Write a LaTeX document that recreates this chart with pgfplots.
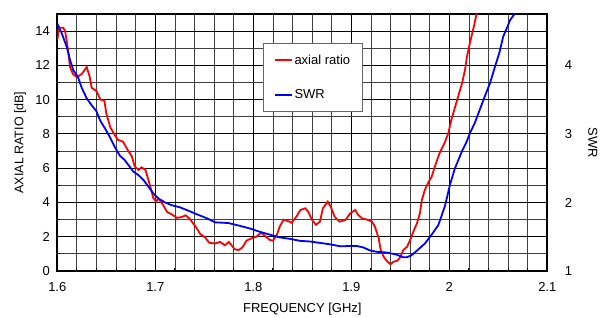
\documentclass[border=0pt]{standalone}
\usepackage{fontspec}
\setmainfont{Liberation Sans}
\usepackage{pgfplots}
\pgfplotsset{compat=1.18}
\begin{document}
\begin{tikzpicture}[font=\fontsize{13}{15}\selectfont]
\begin{axis}[name=L,
  scale only axis, width=490pt, height=257pt,
  xmin=1.6, xmax=2.1, ymin=0, ymax=15,
  xtick={1.6,1.7,1.8,1.9,2.0,2.1},
  xticklabels={1.6,1.7,1.8,1.9,2,2.1},
  ytick={0,2,...,14},
  minor x tick num=4, minor y tick num=1,
  xtick pos=bottom, ytick pos=left,
  tick align=inside,
  major tick length=4pt, minor tick length=3pt,
  tick style={black, line width=1pt},
  grid=both,
  major grid style={black, line width=1.1pt},
  minor grid style={black!75, line width=0.8pt},
  axis line style={black, line width=2.2pt},
  /pgf/number format/assume math mode=true,
  xticklabel style={yshift=-8pt},
  yticklabel style={xshift=-4pt},
  xlabel={FREQUENCY [GHz]},
  ylabel={AXIAL RATIO [dB]},
  xlabel style={at={(axis description cs:0.5,-0.148)}, anchor=center},
  ylabel style={at={(axis description cs:-0.076,0.5)}, anchor=center, font=\fontsize{12.5}{15}\selectfont},
]
\addplot[red, line width=1.8pt] coordinates {
(1.600,13.5) (1.602,14.2) (1.606,14.2) (1.608,14.0) (1.611,12.9) (1.613,11.9)
(1.616,11.5) (1.619,11.35) (1.621,11.35) (1.625,11.5) (1.630,11.9) (1.633,11.35)
(1.635,10.7) (1.640,10.5) (1.644,10.0) (1.648,9.95) (1.650,9.2) (1.654,8.4)
(1.659,7.9) (1.662,7.65) (1.667,7.55) (1.672,7.05) (1.676,6.7) (1.679,6.1)
(1.683,5.9) (1.686,6.05) (1.690,5.9) (1.693,5.3) (1.696,4.7) (1.698,4.25)
(1.701,4.05) (1.703,4.25) (1.708,3.85) (1.712,3.45) (1.717,3.3) (1.722,3.1)
(1.727,3.15) (1.731,3.25) (1.735,3.05) (1.741,2.6) (1.746,2.15) (1.751,1.95)
(1.755,1.65) (1.761,1.6) (1.766,1.7) (1.771,1.5) (1.775,1.7) (1.781,1.27)
(1.785,1.22) (1.789,1.38) (1.793,1.77) (1.798,1.9) (1.803,2.0) (1.808,2.24)
(1.812,2.04) (1.817,1.81) (1.820,1.77) (1.824,2.1) (1.827,2.6) (1.831,3.0)
(1.836,2.9) (1.839,2.82) (1.844,3.17) (1.848,3.56) (1.853,3.66) (1.856,3.46)
(1.860,2.98) (1.864,2.69) (1.868,2.88) (1.871,3.66) (1.876,4.05) (1.879,3.75)
(1.883,3.17) (1.888,2.88) (1.894,2.98) (1.899,3.37) (1.904,3.56) (1.907,3.27)
(1.911,3.07) (1.916,3.0) (1.921,2.88) (1.924,2.6) (1.928,1.9) (1.930,1.22)
(1.933,0.83) (1.937,0.54) (1.940,0.39) (1.943,0.54) (1.947,0.6) (1.950,0.8)
(1.953,1.22) (1.957,1.42) (1.960,1.81) (1.964,2.39) (1.967,2.78) (1.970,3.37)
(1.972,4.14) (1.975,4.73) (1.979,5.21) (1.982,5.5) (1.985,6.05) (1.990,6.87)
(1.995,7.45) (1.999,8.04) (2.002,8.81) (2.006,9.59) (2.009,10.18) (2.013,10.96)
(2.016,11.73) (2.018,12.5) (2.021,13.3) (2.025,14.26) (2.028,15.04)
};
\end{axis}
\begin{axis}[
  scale only axis, width=490pt, height=257pt,
  xmin=1.6, xmax=2.1, ymin=1, ymax=4.75,
  axis x line=none,
  axis y line*=right,
  ytick={1,2,3,4},
  minor y tick num=1,
  tick align=inside,
  major tick length=4pt, minor tick length=4pt,
  tick style={black, line width=1pt},
  axis line style={black, line width=2.2pt},
  /pgf/number format/assume math mode=true,
  yticklabel style={xshift=14pt},
  ylabel={SWR},
  ylabel style={at={(axis description cs:1.093,0.5)}, anchor=center, rotate=180},
  legend cell align=left,
  legend image code/.code={\draw[#1] (0pt,0pt) -- (17pt,0pt);},
  legend style={at={(0.42,0.887)}, anchor=north west, draw=black!60,
    line width=1.2pt, inner xsep=10pt, inner ysep=9pt, row sep=20pt,
    font=\fontsize{13}{15}\selectfont},
]
\addlegendimage{red, line width=1.8pt}
\addlegendentry{axial ratio}
\addplot[blue, line width=1.8pt] coordinates {
(1.600,4.61) (1.6045,4.47) (1.6096,4.27) (1.613,4.08) (1.6163,3.93) (1.6208,3.84)
(1.625,3.67) (1.630,3.52) (1.635,3.42) (1.640,3.33) (1.6436,3.20) (1.6487,3.08)
(1.6538,2.95) (1.659,2.80) (1.664,2.68) (1.6687,2.62) (1.674,2.52) (1.6776,2.45)
(1.6827,2.40) (1.6878,2.33) (1.693,2.23) (1.698,2.13) (1.703,2.06) (1.710,2.00)
(1.7167,1.96) (1.725,1.93) (1.7337,1.88) (1.742,1.83) (1.7525,1.77) (1.761,1.71)
(1.7745,1.70) (1.786,1.66) (1.7966,1.62) (1.807,1.57) (1.817,1.53) (1.827,1.49)
(1.837,1.47) (1.8476,1.44) (1.858,1.43) (1.868,1.41) (1.878,1.39) (1.889,1.36)
(1.899,1.365) (1.9055,1.365) (1.912,1.345) (1.919,1.30) (1.926,1.28) (1.936,1.27)
(1.946,1.24) (1.953,1.20) (1.9565,1.20) (1.9616,1.23) (1.968,1.31) (1.975,1.40)
(1.982,1.53) (1.9888,1.67) (1.9956,1.95) (2.0007,2.26) (2.0058,2.50) (2.0127,2.74)
(2.0178,2.89) (2.021,3.01) (2.026,3.16) (2.031,3.35) (2.036,3.54) (2.0415,3.74)
(2.0466,3.98) (2.051,4.18) (2.055,4.42) (2.0586,4.54) (2.062,4.66) (2.067,4.76)
};
\addlegendentry{SWR}
\end{axis}
\pgfresetboundingbox
\path (L.south west) ++(-57.3pt,-47pt) rectangle ++(602pt,318pt);
\end{tikzpicture}
\end{document}
